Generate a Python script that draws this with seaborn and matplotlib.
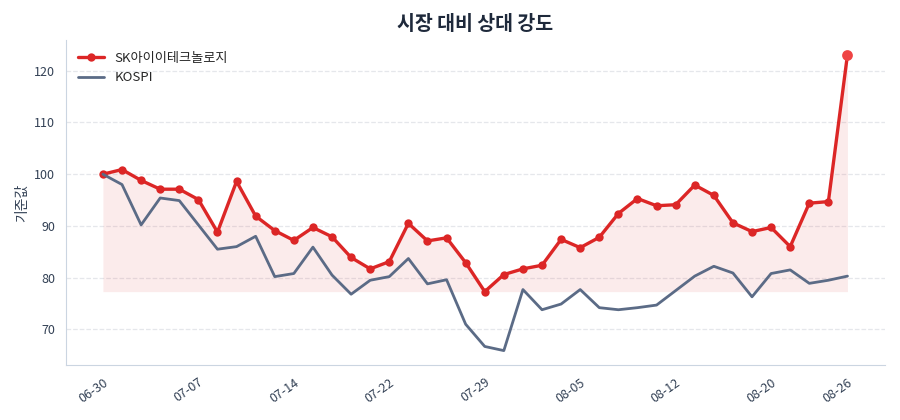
import matplotlib
matplotlib.use("Agg")
import matplotlib.pyplot as plt
import numpy as np
import pandas as pd
import seaborn as sns

sns.set_style("white")
plt.rcParams["font.family"] = ["Noto Sans CJK KR", "DejaVu Sans"]

dates = [
    "06-30", "07-01", "07-02", "07-03", "07-04", "07-07", "07-08", "07-09", "07-10", "07-11",
    "07-14", "07-15", "07-16", "07-17", "07-18", "07-22", "07-23", "07-24", "07-25", "07-28",
    "07-29", "07-30", "07-31", "08-01", "08-04", "08-05", "08-06", "08-07", "08-08", "08-11",
    "08-12", "08-13", "08-14", "08-18", "08-19", "08-20", "08-21", "08-22", "08-25", "08-26",
]
stock = [
    100.0, 100.9, 98.8, 97.1, 97.1, 95.1, 88.8, 98.6, 91.9, 89.1,
    87.2, 89.7, 87.9, 83.9, 81.7, 83.1, 90.5, 87.1, 87.7, 82.9,
    77.3, 80.6, 81.7, 82.4, 87.4, 85.8, 87.8, 92.4, 95.3, 93.9,
    94.1, 97.9, 95.9, 90.6, 88.9, 89.7, 86.0, 94.4, 94.7, 123.1,
]
kospi = [
    100.0, 98.0, 90.2, 95.4, 94.9, 90.2, 85.5, 86.0, 88.0, 80.2,
    80.8, 85.9, 80.5, 76.8, 79.5, 80.2, 83.7, 78.8, 79.6, 71.0,
    66.7, 65.9, 77.7, 73.8, 74.9, 77.7, 74.2, 73.8, 74.2, 74.7,
    77.5, 80.3, 82.2, 80.9, 76.3, 80.8, 81.5, 78.9, 79.5, 80.3,
]
stock_name = "SK아이이테크놀로지"
index_name = "KOSPI"
tick_labels = ["06-30", "07-07", "07-14", "07-22", "07-29", "08-05", "08-12", "08-20", "08-26"]

red = "#dc2626"
slate = "#5b6b86"

df = pd.DataFrame({"idx": np.arange(len(dates)), "date": dates, "stock": stock, "kospi": kospi})

fig, ax = plt.subplots(figsize=(9, 4.2), dpi=100)
fig.subplots_adjust(left=0.073, right=0.983, top=0.905, bottom=0.13)

ax.fill_between(df["idx"], df["stock"], df["stock"].min(), color=red, alpha=0.09, linewidth=0)
sns.lineplot(data=df, x="idx", y="stock", ax=ax, color=red, linewidth=2.4, marker="o",
             markersize=6, markeredgewidth=0, label=stock_name)
sns.lineplot(data=df, x="idx", y="kospi", ax=ax, color=slate, linewidth=2.0, label=index_name)
last = df.iloc[[-1]]
sns.scatterplot(data=last, x="idx", y="stock", ax=ax, color="#ef4444", s=60, linewidth=0, zorder=5, legend=False)

tick_pos = [dates.index(t) for t in tick_labels]
ax.set_xticks(tick_pos)
ax.set_xticklabels(tick_labels, rotation=35, ha="right", rotation_mode="anchor")
ax.set_yticks([70, 80, 90, 100, 110, 120])

ax.set_title("시장 대비 상대 강도", fontsize=14, fontweight="bold", color="#1e293b", pad=7)
ax.set_xlabel("")
ax.set_ylabel("기준값", fontsize=10, color="#334155")

ax.grid(axis="y", linestyle="--", color="#e5e7eb", linewidth=0.9)
ax.set_axisbelow(True)
for side in ["top", "right"]:
    ax.spines[side].set_visible(False)
for side in ["left", "bottom"]:
    ax.spines[side].set_color("#cbd5e1")
ax.tick_params(axis="both", colors="#334155", labelsize=9, length=4, color="#475569")

leg = ax.legend(loc="upper left", frameon=False, fontsize=9.5)

fig.savefig("out.png", dpi=100)
